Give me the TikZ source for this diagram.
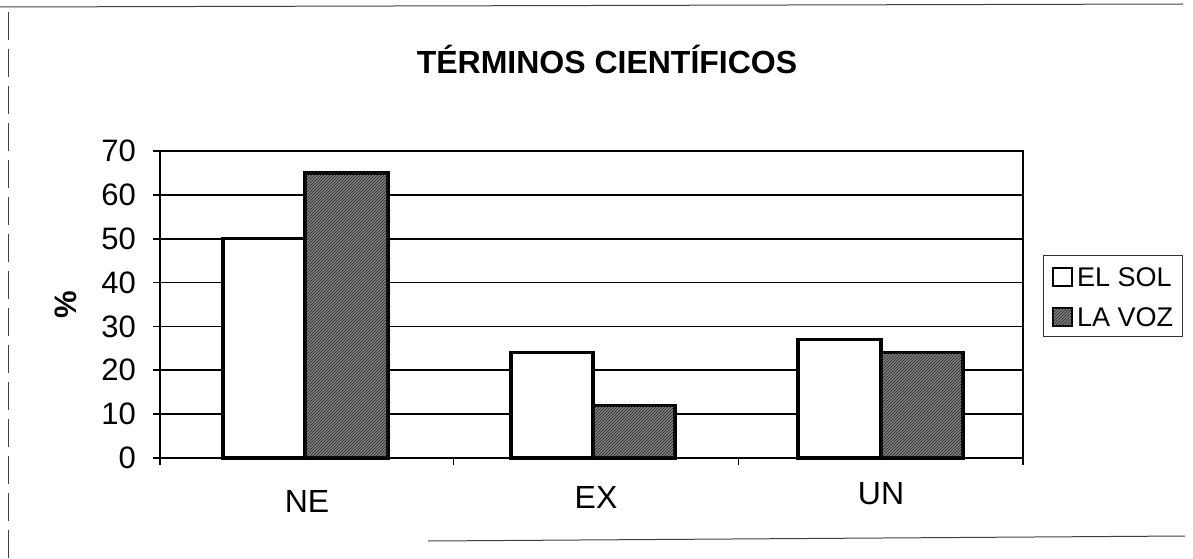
\documentclass[tikz,border=0pt]{standalone}
\usepackage{fontspec}
\setmainfont{Liberation Sans}
\usetikzlibrary{patterns}
\begin{document}
\begin{tikzpicture}[x=1pt,y=-1pt,
  grid/.style={line width=1.8pt,black},
  barA/.style={draw=black,line width=3.4pt,fill=white},
  barB/.style={draw=black,line width=3.4pt,fill=black!50,postaction={pattern=north east lines,pattern color=black!85}},
  ticklab/.style={anchor=east,font=\fontsize{31}{33}\selectfont,inner sep=0pt},
  catlab/.style={font=\fontsize{32}{34}\selectfont,inner sep=0pt},
  leglab/.style={anchor=west,font=\fontsize{27}{29}\selectfont,inner sep=0pt},
  framel/.style={line width=1pt,black!75}]
\useasboundingbox (0,0) rectangle (1193,559);
\def\k{4.386}
% outer frame (partial, as scanned)
\draw[framel] (0,7) -- (1183,4);
\draw[framel,dash pattern=on 28pt off 9pt] (8,12) -- (8,559);
\draw[framel] (428,541) -- (1185,536);
% title
\node[font=\bfseries\fontsize{32}{34}\selectfont,inner sep=0pt] (title) at (607,59) {TÉRMINOS CIENTÍFICOS};
% gridlines with ticks
\foreach \v in {10,20,...,60} {\draw[grid] (153,{458-\v*\k}) -- (1023,{458-\v*\k});}
\draw[grid] (153,151) -- (160,151);
\draw[grid] (153,458) -- (160,458);
% tick labels
\foreach \v in {0,10,...,70} {\node[ticklab] (t\v) at (136,{458-\v*\k}) {\v};}
% bars
\draw[barA] (223,458) rectangle (305,{458-50*\k});
\draw[barB] (305,458) rectangle (388,{458-65*\k});
\draw[barA] (511,458) rectangle (593,{458-24*\k});
\draw[barB] (593,458) rectangle (675,{458-12*\k});
\draw[barA] (798,458) rectangle (881,{458-27*\k});
\draw[barB] (881,458) rectangle (963,{458-24*\k});
% plot frame
\draw[line width=2.8pt] (160,151) rectangle (1023,458);
% category ticks
\foreach \x in {160,453.5,738.5,1023} {\draw[line width=1.4pt] (\x,458) -- (\x,465);}
% category labels
\node[catlab] (ne) at (307,501) {NE};
\node[catlab] (ex) at (596,497) {EX};
\node[catlab] (un) at (881,494) {UN};
% y axis label
\node[font=\bfseries\fontsize{31}{33}\selectfont,rotate=90,inner sep=0pt] (ylab) at (66,305) {\%};
% legend
\draw[line width=1pt,black!80] (1043,255) rectangle (1182,336);
\draw[line width=2.8pt,fill=white] (1053,268) rectangle (1072,286);
\draw[line width=2.8pt,fill=black!50,postaction={pattern=north east lines,pattern color=black!85}] (1053,308) rectangle (1072,326);
\node[leglab] (l1) at (1077,277) {EL SOL};
\node[leglab] (l2) at (1077,317) {LA VOZ};
\end{tikzpicture}
\end{document}
